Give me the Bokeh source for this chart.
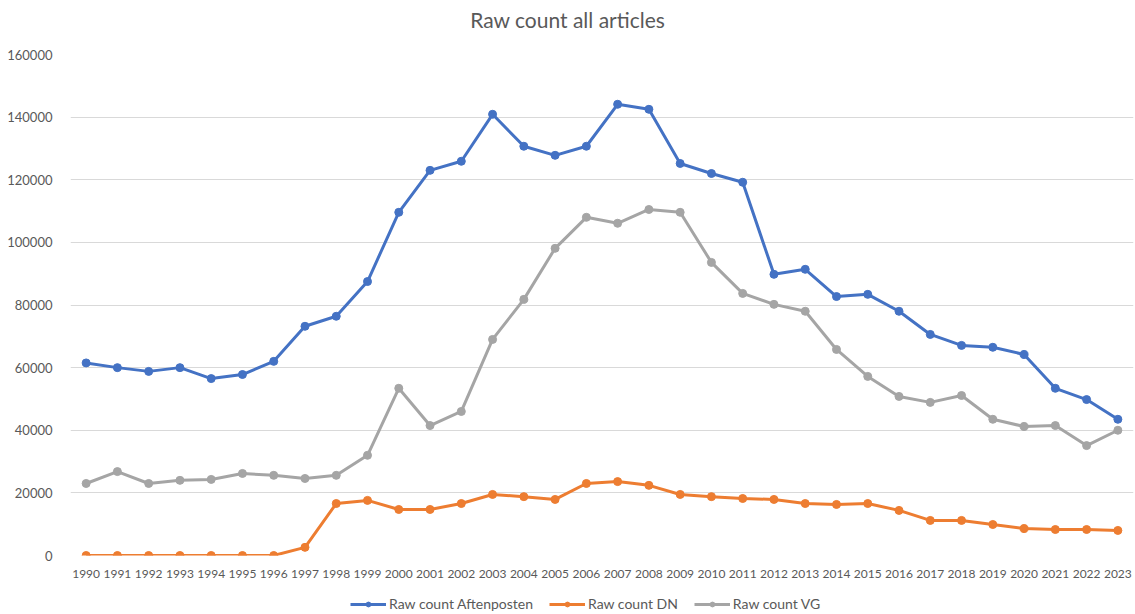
from bokeh.plotting import figure
from bokeh.layouts import column
from bokeh.models import FixedTicker, BasicTickFormatter, Legend, LegendItem, Range1d, Div
from bokeh.embed import file_html
from bokeh.resources import INLINE

years = list(range(1990, 2024))

aftenposten = [61500, 60000, 58800, 60000, 56500, 57800, 62000, 73200, 76400, 87500,
               109600, 123000, 125900, 140900, 130700, 127800, 130700, 144100, 142500, 125200,
               122000, 119200, 89800, 91400, 82700, 83400, 78000, 70600, 67100, 66500,
               64200, 53400, 49800, 43500]

dn = [0, 0, 0, 0, 0, 0, 0, 2600, 16600, 17600,
      14700, 14700, 16600, 19500, 18800, 17900, 23000, 23600, 22400, 19500,
      18800, 18200, 17900, 16600, 16300, 16600, 14400, 11200, 11200, 9900,
      8600, 8300, 8300, 8000]

vg = [23000, 26800, 23000, 24000, 24300, 26200, 25600, 24600, 25600, 32000,
      53400, 41500, 46000, 69000, 81800, 98100, 108000, 106100, 110500, 109600,
      93600, 83700, 80200, 78000, 65800, 57200, 50800, 48900, 51100, 43500,
      41200, 41500, 35100, 40000]

y_ticks = [0, 20000, 40000, 60000, 80000, 100000, 120000, 140000, 160000]

series = [
    ("Raw count Aftenposten", aftenposten, "#4472C4"),
    ("Raw count DN", dn, "#ED7D31"),
    ("Raw count VG", vg, "#A5A5A5"),
]

FONT = "Lato"
TEXT = "#595959"

title = Div(text="Raw count all articles", width=1135, height=44,
            styles={"font-family": "Lato", "font-size": "21px", "color": TEXT,
                    "text-align": "center", "line-height": "40px", "margin": "0",
                    "padding": "0", "width": "1135px"})

# main chart
p = figure(frame_width=1063, frame_height=501, output_backend="svg", toolbar_location=None,
           x_range=Range1d(1989.5, 2023.5), y_range=Range1d(0, 160000),
           min_border_left=70, min_border_right=2, min_border_top=10, min_border_bottom=40)

p.outline_line_color = None
p.background_fill_color = "white"
p.border_fill_color = "white"

p.xgrid.grid_line_color = None
p.ygrid.grid_line_color = "#D9D9D9"
p.ygrid.grid_line_width = 1

p.xaxis.ticker = FixedTicker(ticks=years)
p.yaxis.ticker = FixedTicker(ticks=y_ticks)
p.yaxis.formatter = BasicTickFormatter(use_scientific=False)
for ax in (p.xaxis[0], p.yaxis[0]):
    ax.axis_line_color = None
    ax.major_tick_line_color = None
    ax.minor_tick_line_color = None
    ax.major_label_text_font = FONT
    ax.major_label_text_color = TEXT
p.xaxis.major_label_text_font_size = "12px"
p.yaxis.major_label_text_font_size = "13px"
p.xaxis.major_label_standoff = 8
p.yaxis.major_label_standoff = 12

for name, vals, color in series:
    p.line(years, vals, line_color=color, line_width=3)
    p.scatter(years, vals, size=8, fill_color=color, line_color=color)

# legend strip under the chart: same series styling, data kept outside its view
lg = figure(width=1135, height=19, output_backend="svg", toolbar_location=None,
            x_range=Range1d(0, 1), y_range=Range1d(0, 1), min_border=0)
lg.axis.visible = False
lg.grid.visible = False
lg.outline_line_color = None

items = []
for name, vals, color in series:
    ln = lg.line(years, vals, line_color=color, line_width=3)
    mk = lg.scatter(years, vals, size=8, fill_color=color, line_color=color)
    items.append(LegendItem(label=name, renderers=[ln, mk]))

legend = Legend(items=items, orientation="horizontal", location=(280, 2),
                label_text_font=FONT, label_text_font_size="14px", label_text_color=TEXT,
                glyph_width=36, glyph_height=12, spacing=16, label_standoff=3,
                label_height=12, border_line_color=None, background_fill_alpha=0,
                padding=1, margin=0)
lg.add_layout(legend)

layout = column(title, p, lg, spacing=0)
open("out.html", "w").write(file_html(layout, INLINE))
